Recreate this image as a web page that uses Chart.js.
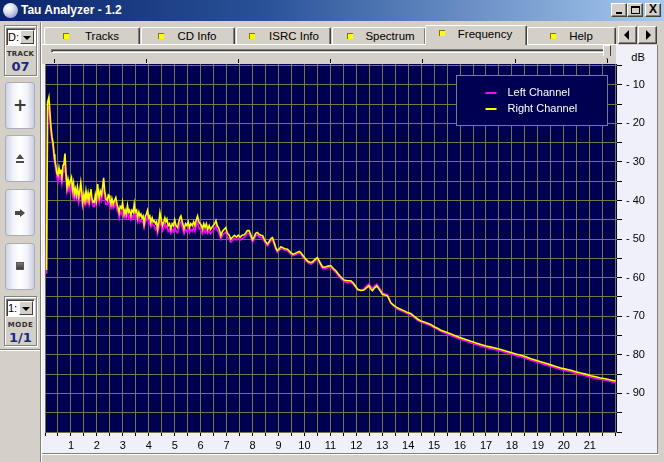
<!DOCTYPE html>
<html>
<head>
<meta charset="utf-8">
<title>Tau Analyzer - 1.2</title>
<script src="https://cdn.jsdelivr.net/npm/chart.js@4.4.1/dist/chart.umd.min.js"></script>
<style>
html,body{margin:0;padding:0;}
body{width:664px;height:462px;overflow:hidden;background:#d4d0c8;position:relative;font-family:"Liberation Sans",Arial,sans-serif;font-size:11px;color:#000;}
div{box-sizing:border-box;}
.a{position:absolute;}
.wbtn{position:absolute;top:3px;width:16px;height:14px;background:#d4d0c8;border:1px solid;border-color:#fff #404040 #404040 #fff;box-shadow:inset -1px -1px 0 #808080;}
.tab{position:absolute;top:27px;height:18px;background:#d4d0c8;border:1px solid;border-bottom:none;border-color:#fff #404040 transparent #fff;border-radius:2px 2px 0 0;box-shadow:inset -1px 0 0 #808080;}
.sq{position:absolute;width:6px;height:6px;background:#ffff00;border-top:1px solid #7a7a00;border-left:1px solid #7a7a00;}
.tl{position:absolute;width:90px;text-align:center;line-height:14px;font-size:11.5px;}
.btn{position:absolute;left:5px;width:30px;height:47px;border:1px solid #a8acbc;border-radius:3px;background:linear-gradient(to right,#cfd2e2 0%,#f2f3f9 25%,#ffffff 50%,#f2f3f9 75%,#c9cddf 100%);}
.combo{position:absolute;background:#fff;border:1px solid;border-color:#808080 #fff #fff #808080;box-shadow:inset 1px 1px 0 #404040;}
.carrow{position:absolute;top:1px;right:1px;width:14px;bottom:1px;background:#d4d0c8;border:1px solid;border-color:#fff #404040 #404040 #fff;}
.tri{position:absolute;width:0;height:0;}
.grp{position:absolute;border:1px solid #808080;box-shadow:1px 1px 0 #fff, inset 1px 1px 0 #fff;}
</style>
</head>
<body>
<!-- title bar -->
<div class="a" style="left:0;top:0;width:664px;height:21px;background:linear-gradient(to right,#0a246a 0%,#2a5298 40%,#a6caf0 100%);"></div>
<div class="a" style="left:3px;top:3px;width:15px;height:15px;border-radius:50%;background:radial-gradient(circle at 35% 30%,#ffffff 0%,#dfe4f2 35%,#8f9cc8 80%,#5a6aa0 100%);"></div>
<div class="a" style="left:21px;top:3px;color:#fff;font-weight:bold;font-size:12px;line-height:15px;">Tau Analyzer - 1.2</div>
<div class="wbtn" style="left:611px;"><div class="a" style="left:4px;top:8px;width:6px;height:2px;background:#000;"></div></div>
<div class="wbtn" style="left:627px;"><div class="a" style="left:3px;top:2px;width:9px;height:8px;border:1px solid #000;border-top-width:2px;"></div></div>
<div class="wbtn" style="left:645px;"><div class="a" style="left:0;top:-2px;width:14px;text-align:center;font-weight:bold;font-size:12px;line-height:14px;">X</div></div>

<!-- left panel -->
<div class="a" style="left:40px;top:22px;width:1px;height:440px;background:#808080;"></div>
<div class="a" style="left:41px;top:22px;width:1px;height:440px;background:#fff;"></div>

<div class="grp" style="left:4px;top:25px;width:33px;height:51px;"></div>
<div class="combo" style="left:6px;top:28px;width:30px;height:18px;">
  <div class="a" style="left:1px;top:1px;font-size:11px;line-height:14px;">D:</div>
  <div class="carrow"><div class="tri" style="left:2px;top:5px;border-left:4px solid transparent;border-right:4px solid transparent;border-top:4px solid #000;"></div></div>
</div>
<div class="a" style="left:4px;top:50px;width:33px;text-align:center;font-family:'DejaVu Sans';font-size:7px;font-weight:bold;letter-spacing:0.3px;color:#303030;line-height:9px;">TRACK</div>
<div class="a" style="left:4px;top:59px;width:33px;text-align:center;font-family:'DejaVu Sans';font-size:13px;font-weight:bold;color:#1a2a80;line-height:15px;">07</div>

<div class="btn" style="top:82px;"><div class="a" style="left:0;top:14px;width:28px;text-align:center;font-family:'DejaVu Sans';font-size:17px;font-weight:bold;color:#3a3a3a;line-height:17px;">+</div></div>
<div class="btn" style="top:135px;">
  <div class="tri" style="left:10px;top:18px;border-left:4px solid transparent;border-right:4px solid transparent;border-bottom:5px solid #4a4a4a;"></div>
  <div class="a" style="left:10px;top:25px;width:8px;height:2px;background:#4a4a4a;"></div>
</div>
<div class="btn" style="top:189px;">
  <div class="a" style="left:9px;top:21px;width:5px;height:4px;background:#4a4a4a;"></div>
  <div class="tri" style="left:14px;top:19px;border-top:4px solid transparent;border-bottom:4px solid transparent;border-left:5px solid #4a4a4a;"></div>
</div>
<div class="btn" style="top:243px;"><div class="a" style="left:10px;top:18px;width:8px;height:8px;background:linear-gradient(#7a7a7a,#3a3a3a);border:1px solid #5a5a5a;"></div></div>

<div class="grp" style="left:4px;top:296px;width:33px;height:50px;"></div>
<div class="combo" style="left:6px;top:299px;width:29px;height:18px;">
  <div class="a" style="left:1px;top:1px;font-size:11px;line-height:14px;">1:</div>
  <div class="carrow"><div class="tri" style="left:2px;top:5px;border-left:4px solid transparent;border-right:4px solid transparent;border-top:4px solid #000;"></div></div>
</div>
<div class="a" style="left:4px;top:321px;width:33px;text-align:center;font-family:'DejaVu Sans';font-size:7px;font-weight:bold;letter-spacing:0.5px;color:#303030;line-height:9px;">MODE</div>
<div class="a" style="left:4px;top:330px;width:33px;text-align:center;font-family:'DejaVu Sans';font-size:13px;font-weight:bold;color:#1a2a80;line-height:15px;">1/1</div>
<div class="a" style="left:0;top:349px;width:40px;height:1px;background:#808080;"></div>
<div class="a" style="left:0;top:350px;width:40px;height:1px;background:#fff;"></div>

<!-- tabs -->
<div class="tab" style="left:44px;width:96px;"></div>
<div class="tab" style="left:141px;width:94px;"></div>
<div class="tab" style="left:236px;width:95px;"></div>
<div class="tab" style="left:332px;width:94px;"></div>
<div class="tab" style="left:527px;width:89px;"></div>
<div class="a" style="left:42px;top:44px;width:576px;height:1px;background:#fff;"></div>
<div class="tab" style="left:425px;width:102px;top:25px;height:21px;"></div>

<div class="sq" style="left:63px;top:33px;"></div><div class="tl" style="left:57px;top:29px;">Tracks</div>
<div class="sq" style="left:158px;top:33px;"></div><div class="tl" style="left:152px;top:29px;">CD Info</div>
<div class="sq" style="left:249px;top:33px;"></div><div class="tl" style="left:249px;top:29px;">ISRC Info</div>
<div class="sq" style="left:347px;top:33px;"></div><div class="tl" style="left:345px;top:29px;">Spectrum</div>
<div class="sq" style="left:439px;top:30px;"></div><div class="tl" style="left:440px;top:27px;">Frequency</div>
<div class="sq" style="left:550px;top:33px;"></div><div class="tl" style="left:536px;top:29px;">Help</div>

<div class="wbtn" style="left:618px;top:26px;width:19px;height:18px;"><div class="tri" style="left:5px;top:3px;border-top:5px solid transparent;border-bottom:5px solid transparent;border-right:5px solid #000;"></div></div>
<div class="wbtn" style="left:638px;top:26px;width:19px;height:18px;"><div class="tri" style="left:7px;top:3px;border-top:5px solid transparent;border-bottom:5px solid transparent;border-left:5px solid #000;"></div></div>

<!-- panel -->
<div class="a" style="left:42px;top:45px;width:615px;height:408px;background:#f0f0fa;"></div>
<div class="a" style="left:42px;top:45px;width:574px;height:19px;background:#d4d0c8;"></div>
<div class="a" style="left:657px;top:45px;width:1px;height:409px;background:#808080;"></div>
<div class="a" style="left:42px;top:453px;width:616px;height:1px;background:#808080;"></div>
<div class="a" style="left:42px;top:454px;width:617px;height:1px;background:#fff;"></div>
<!-- slider -->
<div class="a" style="left:51px;top:49px;width:557px;height:4px;border:1px solid;border-color:#808080 #fff #fff #808080;background:#d4d0c8;box-shadow:inset 1px 1px 0 #404040;"></div>
<div class="a" style="left:603px;top:45px;width:8px;height:14px;background:#d4d0c8;border:1px solid;border-color:#fff #404040 #404040 #fff;clip-path:polygon(0 0,100% 0,100% 75%,50% 100%,0 75%);"></div>
<div class="a" style="left:54px;top:59px;width:1px;height:4px;background:#000;"></div>
<div class="a" style="left:146px;top:59px;width:1px;height:4px;background:#000;"></div>
<div class="a" style="left:238px;top:59px;width:1px;height:4px;background:#000;"></div>
<div class="a" style="left:330px;top:59px;width:1px;height:4px;background:#000;"></div>
<div class="a" style="left:422px;top:59px;width:1px;height:4px;background:#000;"></div>
<div class="a" style="left:515px;top:59px;width:1px;height:4px;background:#000;"></div>
<div class="a" style="left:607px;top:59px;width:1px;height:4px;background:#000;"></div>

<div class="a" style="left:626px;top:50px;width:24px;text-align:center;font-size:11px;line-height:14px;">dB</div>
<div class="a" style="left:616px;top:438px;width:24px;text-align:center;font-size:11px;line-height:14px;">kHz</div>

<canvas id="c" width="612" height="389" class="a" style="left:45px;top:64px;width:612px;height:389px;"></canvas>

<script>
// ---- data (kHz, dB) ----
const freqs = [
 0.06,0.10,0.15,0.19,0.23,0.27,0.31,0.35,0.38,0.42,
 0.46,0.50,0.54,0.58,0.61,0.65,0.69,0.73,0.77,0.81,
 0.85,0.89,0.93,0.97,1.02,1.06,1.10,1.13,1.17,1.21,
 1.25,1.30,1.34,1.38,1.42,1.45,1.50,1.54,1.58,1.62,
 1.66,1.70,1.74,1.77,1.81,1.86,1.90,1.94,1.98,2.03,
 2.06,2.09,2.13,2.18,2.22,2.26,2.30,2.35,2.40,2.44,
 2.47,2.50,2.54,2.58,2.63,2.68,2.73,2.78,2.82,2.86,
 2.90,2.95,2.99,3.02,3.05,3.09,3.13,3.18,3.22,3.26,
 3.31,3.35,3.40,3.44,3.48,3.53,3.57,3.62,3.66,3.70,
 3.74,3.78,3.82,3.87,3.91,3.95,4.00,4.04,4.08,4.13,
 4.17,4.21,4.26,4.30,4.34,4.39,4.43,4.48,4.53,4.58,
 4.62,4.66,4.70,4.75,4.80,4.85,4.90,4.95,5.00,5.05,
 5.11,5.16,5.20,5.24,5.29,5.33,5.36,5.42,5.47,5.52,
 5.57,5.62,5.68,5.73,5.78,5.83,5.88,5.93,5.98,6.03,
 6.07,6.12,6.17,6.22,6.27,6.33,6.38,6.43,6.48,6.54,
 6.59,6.64,6.69,6.74,6.78,6.84,6.90,6.97,7.03,7.10,
 7.16,7.23,7.30,7.38,7.45,7.52,7.60,7.68,7.75,7.80,
 7.87,7.94,8.00,8.06,8.12,8.19,8.26,8.33,8.39,8.45,
 8.52,8.58,8.65,8.72,8.77,8.84,8.90,8.96,9.03,9.10,
 9.16,9.25,9.35,9.45,9.54,9.62,9.70,9.80,9.86,9.95,
 10.05,10.15,10.25,10.33,10.42,10.50,10.58,10.70,10.80,10.90,
 11.02,11.10,11.21,11.30,11.40,11.53,11.65,11.79,11.90,12.05,
 12.18,12.30,12.40,12.49,12.55,12.62,12.70,12.79,12.90,13.01,
 13.10,13.20,13.27,13.33,13.45,13.58,13.71,13.85,13.97,14.10,
 14.23,14.36,14.49,14.62,14.75,14.87,15.00,15.13,15.26,15.45,
 15.65,15.84,16.03,16.22,16.42,16.61,16.80,17.00,17.19,17.38,
 17.57,17.76,17.96,18.15,18.34,18.53,18.73,18.92,19.11,19.30,
 19.50,19.69,19.88,20.07,20.27,20.46,20.65,20.84,21.04,21.23,
 21.42,21.61,21.80,22.00
];
const leftDb = [
 -59,-16,-15.8,-19,-22.5,-24.5,-26,-29,-30.5,-32,
 -34,-35,-33,-34.5,-33.5,-35.5,-33,-32.5,-30,-34.5,
 -37.5,-36,-37.5,-36.5,-35.5,-38.5,-37,-39.5,-38.5,-39.5,
 -38,-40.5,-39,-37,-39.5,-41.5,-40,-41,-39,-40.5,
 -39.5,-41,-39.5,-38.5,-40.5,-41.5,-41.5,-40,-41,-37.5,
 -39.5,-40.5,-39,-40,-38,-36,-39,-41,-41,-40,
 -40,-41.5,-42,-41,-42,-41.5,-40.5,-42.5,-43,-44.5,
 -43,-43.5,-42,-43.5,-44.5,-44,-44.5,-43,-44.5,-44,
 -45,-44,-44.5,-42.5,-44.5,-44,-45.5,-44.5,-45.5,-45,
 -45.5,-45.5,-47,-45.5,-45,-44,-46,-45.5,-46.8,-46,
 -46.5,-46.5,-47.5,-47,-48.5,-47,-45,-46.5,-47.8,-47,
 -46,-47,-46.5,-48,-47.5,-48.5,-47.5,-48,-46.5,-48,
 -48.3,-47,-46,-45.5,-47,-48,-48.6,-47.5,-48,-47,
 -48.3,-47.5,-48,-47,-48,-46.5,-45.5,-47,-47.5,-48,
 -48.6,-47.5,-48.3,-47.5,-48.5,-47.8,-48.6,-48.2,-47.8,-47.3,
 -46.5,-47.6,-48.2,-49.2,-50,-49,-48.6,-48.2,-49.5,-50,
 -50.8,-50.3,-49.8,-50.2,-49.8,-50.2,-49.8,-49.6,-49,-48.5,
 -48.5,-49.6,-50.8,-50.1,-49.2,-48.9,-49.4,-49.6,-49.6,-50.5,
 -51.3,-51.7,-51,-50.3,-50.1,-51.5,-52.7,-53.4,-52.9,-52.5,
 -52.6,-52.9,-53,-53.7,-54.3,-54.2,-53.9,-53.6,-53.9,-54.7,
 -55.6,-56.2,-56.5,-56.2,-55.6,-55.2,-56.2,-57.6,-57.7,-57.4,
 -57.3,-57.9,-58.6,-59.4,-60.2,-61,-61.2,-61.2,-61.8,-63.1,
 -63.3,-62.9,-62.1,-61.6,-62.2,-62.8,-62.2,-61.7,-62.8,-64,
 -64.2,-64.4,-65.5,-66.5,-67.4,-68.1,-68.5,-68.9,-69.3,-69.6,
 -70.3,-71,-71.5,-71.8,-72.1,-72.4,-73,-73.4,-73.9,-74.5,
 -75,-75.5,-76,-76.4,-76.9,-77.3,-77.7,-78.1,-78.4,-78.7,
 -79,-79.4,-79.8,-80.2,-80.5,-80.9,-81.4,-81.8,-82.2,-82.6,
 -83,-83.4,-83.8,-84.1,-84.4,-84.8,-85.1,-85.4,-85.8,-86.1,
 -86.4,-86.6,-86.9,-87.2
];
const rightDb = [
 -58,-14.5,-13.2,-17,-21,-23.5,-25,-28,-29.6,-31,
 -33,-33.5,-31.5,-33,-32,-34,-31,-30.5,-27.8,-33,
 -36.5,-34.5,-36,-35,-34,-37,-35.5,-38.3,-37,-38.5,
 -36.5,-39,-37.5,-35.3,-38,-40.5,-38.5,-40,-37.5,-39.5,
 -38,-40,-38,-37,-39.5,-40.5,-40.5,-38.5,-40,-35.7,
 -38,-39.2,-37.5,-38.5,-36.5,-34.1,-37.5,-39.6,-40,-38.5,
 -38.7,-40,-40.9,-39.5,-41,-40,-39.2,-41,-42,-43.1,
 -41.5,-42,-40.5,-42,-43.5,-42.5,-43.5,-41.3,-43,-42.5,
 -43.9,-42.5,-43,-40.9,-43,-42.5,-44.4,-43,-44,-43.5,
 -44.5,-44,-46.1,-44,-43.5,-42.6,-44.5,-44,-45.7,-44.5,
 -45.5,-45.2,-46,-45.5,-47.4,-45.5,-43.1,-45,-46.5,-45.5,
 -44.5,-45.5,-44.8,-46.5,-46,-47.4,-46,-46.5,-45,-46.5,
 -47,-45.5,-44.5,-44,-45.5,-46.5,-47.4,-46,-46.5,-45.5,
 -47,-46,-46.5,-45.5,-46.5,-45,-44,-45.5,-46,-46.5,
 -47.4,-46,-47,-46,-47.5,-46.5,-47.5,-47,-46.5,-46,
 -45.2,-46.5,-47,-48,-49.1,-48,-47.5,-47,-48.5,-49,
 -50,-49.5,-49,-49.5,-49,-49.5,-49,-48.9,-48.3,-47.8,
 -47.8,-49,-50.2,-49.5,-48.5,-48.3,-48.8,-49,-49.1,-50,
 -50.8,-51.3,-50.5,-49.8,-49.6,-51,-52.3,-53,-52.5,-52,
 -52.2,-52.5,-52.6,-53.3,-53.9,-53.8,-53.5,-53.2,-53.5,-54.3,
 -55.2,-55.8,-56.1,-55.8,-55.2,-54.8,-55.8,-57.2,-57.3,-57,
 -56.9,-57.5,-58.2,-59,-59.8,-60.6,-60.8,-60.8,-61.5,-63,
 -63.3,-63.2,-62.6,-62.1,-62.8,-63.4,-62.7,-62.1,-63.2,-64.3,
 -64.5,-64.7,-65.7,-66.5,-67.2,-67.8,-68.2,-68.6,-69,-69.3,
 -70,-70.7,-71.2,-71.5,-71.8,-72.1,-72.7,-73.1,-73.6,-74.1,
 -74.6,-75.1,-75.6,-76,-76.5,-76.9,-77.3,-77.7,-78,-78.3,
 -78.6,-79,-79.4,-79.8,-80.1,-80.5,-81,-81.4,-81.8,-82.2,
 -82.6,-83,-83.4,-83.7,-84,-84.4,-84.7,-85,-85.4,-85.7,
 -86,-86.2,-86.5,-86.8
];
const seriesNames = ['Left Channel', 'Right Channel'];
const xTickLabels = ['1','2','3','4','5','6','7','8','9','10','11','12','13','14','15','16','17','18','19','20','21'];
const yTickLabels = ['- 10','- 20','- 30','- 40','- 50','- 60','- 70','- 80','- 90'];

const NAVY = '#000050';
const GRID = '#75754a';
const PANEL = '#f0f0fa';

const pts = arr => freqs.map((f, i) => ({x: f, y: arr[i]}));

const scopePlugin = {
  id: 'scope',
  beforeDraw(chart) {
    const {ctx, chartArea: a, width, height} = chart;
    ctx.save();
    ctx.fillStyle = PANEL;
    ctx.fillRect(0, 0, width, height);
    ctx.fillStyle = NAVY;
    ctx.fillRect(a.left, a.top, a.right - a.left, a.bottom - a.top);
    ctx.restore();
  },
  afterDatasetsDraw(chart) {
    const {ctx, chartArea: a} = chart;
    const w = 151, h = 50;
    const x = Math.round(a.right - 161) + 0.5, y = Math.round(a.top + 11) + 0.5;
    ctx.save();
    ctx.fillStyle = NAVY;
    ctx.fillRect(x, y, w, h);
    ctx.strokeStyle = '#7a7a8a';
    ctx.lineWidth = 1;
    ctx.strokeRect(x, y, w, h);
    ctx.font = '11px "Liberation Sans", Arial, sans-serif';
    ctx.textBaseline = 'middle';
    chart.data.datasets.forEach((ds, i) => {
      const ly = Math.round(y + 17 + i * 16.7);
      ctx.fillStyle = ds.borderColor;
      ctx.fillRect(x + 29, ly - 1, 11, 2);
      ctx.fillStyle = '#ffffff';
      ctx.fillText(ds.label, x + 51, ly);
    });
    ctx.restore();
  }
};

new Chart(document.getElementById('c'), {
  type: 'line',
  data: {
    datasets: [
      {label: seriesNames[0], data: pts(leftDb), borderColor: '#ff00ff', borderWidth: 1.6, pointRadius: 0, tension: 0, order: 1},
      {label: seriesNames[1], data: pts(rightDb), borderColor: '#ffff00', borderWidth: 1.6, pointRadius: 0, tension: 0, order: 0}
    ]
  },
  options: {
    responsive: false,
    animation: false,
    devicePixelRatio: 1,
    layout: {padding: 0},
    plugins: {legend: {display: false}, tooltip: {enabled: false}},
    scales: {
      x: {
        type: 'linear', position: 'bottom', min: 0, max: 22.05,
        afterBuildTicks(s) { const t = []; for (let v = 0; v <= 22; v += 0.5) t.push({value: v}); s.ticks = t; },
        afterFit(s) { s.height = 21; s.paddingLeft = 0; s.paddingRight = 0; },
        grid: {color: GRID, tickColor: '#000', tickLength: 4, lineWidth: 1},
        border: {display: false},
        ticks: {
          autoSkip: false, maxRotation: 0, minRotation: 0, padding: 3, color: '#000',
          font: {family: 'Liberation Sans', size: 11},
          callback: v => (Number.isInteger(v) && v >= 1 && v <= xTickLabels.length) ? xTickLabels[v - 1] : ''
        }
      },
      y: {
        type: 'linear', position: 'right', min: -100, max: -4.6,
        afterBuildTicks(s) { const t = []; for (let v = -100; v <= -5; v += 5) t.push({value: v}); s.ticks = t; },
        afterFit(s) { s.width = 40; s.paddingTop = 0; s.paddingBottom = 0; },
        grid: {color: GRID, tickColor: '#000', tickLength: 5, lineWidth: 1},
        border: {display: false},
        ticks: {
          autoSkip: false, padding: 4, color: '#000',
          font: {family: 'Liberation Sans', size: 11},
          callback: v => { const k = -v / 10; return (Number.isInteger(k) && k >= 1 && k <= yTickLabels.length) ? yTickLabels[k - 1] : ''; }
        }
      }
    }
  },
  plugins: [scopePlugin]
});
</script>
</body>
</html>
